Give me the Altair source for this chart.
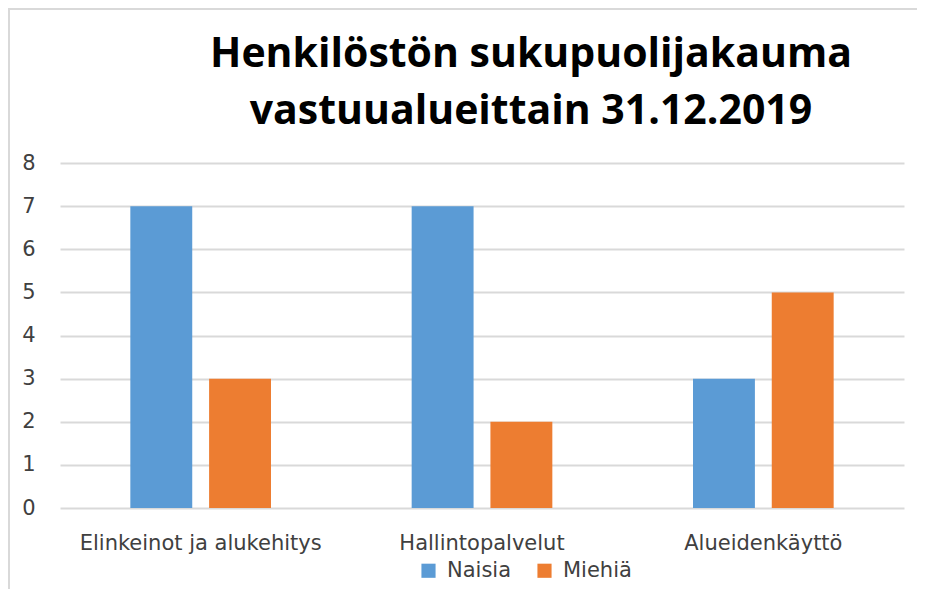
import altair as alt
import pandas as pd

categories = ["Elinkeinot ja alukehitys", "Hallintopalvelut", "Alueidenkäyttö"]
series = ["Naisia", "Miehiä"]
naisia = [7, 7, 3]
miehia = [3, 2, 5]
colors = ["#5b9bd5", "#ed7d31"]
y_ticks = [0, 1, 2, 3, 4, 5, 6, 7, 8]
title_lines = ["Henkilöstön sukupuolijakauma", "vastuualueittain 31.12.2019"]

rows = []
for c, n, m in zip(categories, naisia, miehia):
    rows.append({"cat": c, "sarja": series[0], "arvo": n})
    rows.append({"cat": c, "sarja": series[1], "arvo": m})
df = pd.DataFrame(rows)
one = pd.DataFrame({"t1": [title_lines[0]], "t2": [title_lines[1]]})

FONT = "DejaVu Sans"
TFONT = "Open Sans"

bars = alt.Chart(df).mark_bar().encode(
    x=alt.X("cat:N", sort=categories, title=None,
            scale=alt.Scale(paddingInner=0.5, paddingOuter=0.25),
            axis=alt.Axis(labelAngle=0, domain=False, ticks=False, labelPadding=24,
                          labelFontSize=21, labelColor="#404040", labelFont=FONT,
                          labelLimit=0, grid=False)),
    xOffset=alt.XOffset("sarja:N", sort=series, scale=alt.Scale(paddingInner=0.214)),
    y=alt.Y("arvo:Q", title=None,
            scale=alt.Scale(domain=[0, 8], nice=False),
            axis=alt.Axis(values=y_ticks, domain=False, ticks=False, labelPadding=25,
                          labelFontSize=21, labelColor="#404040", labelFont=FONT,
                          gridColor="#d9d9d9", gridWidth=2)),
    color=alt.Color("sarja:N", sort=series, scale=alt.Scale(domain=series, range=colors),
                    legend=alt.Legend(title=None, orient="none", direction="horizontal",
                                      legendX=358, legendY=397, symbolType="square",
                                      symbolSize=200, symbolStrokeWidth=0,
                                      labelFontSize=21, labelFont=FONT, labelColor="#404040",
                                      columnPadding=22, labelOffset=8)),
)

frame_left = alt.Chart(one).mark_rule(color="#d9d9d9", strokeWidth=2).encode(
    x=alt.value(-51), y=alt.value(-155), y2=alt.value(426))
frame_top = alt.Chart(one).mark_rule(color="#d9d9d9", strokeWidth=2).encode(
    x=alt.value(-51), x2=alt.value(857), y=alt.value(-154))

title1 = alt.Chart(one).mark_text(
    font=TFONT, fontSize=41, fontWeight="bold", color="#000000",
    align="center", baseline="alphabetic").encode(
    x=alt.value(471), y=alt.value(-96), text="t1:N")
title2 = alt.Chart(one).mark_text(
    font=TFONT, fontSize=41, fontWeight="bold", color="#000000",
    align="center", baseline="alphabetic").encode(
    x=alt.value(471), y=alt.value(-39), text="t2:N")

chart = alt.layer(frame_left, frame_top, title1, title2, bars).properties(
    width=844, height=345,
    autosize=alt.AutoSizeParams(type="none"),
    padding={"left": 52, "top": 155, "right": 13, "bottom": 81},
).configure_view(stroke=None)

chart.save("out.html", embed_options={"renderer": "svg", "actions": False})
